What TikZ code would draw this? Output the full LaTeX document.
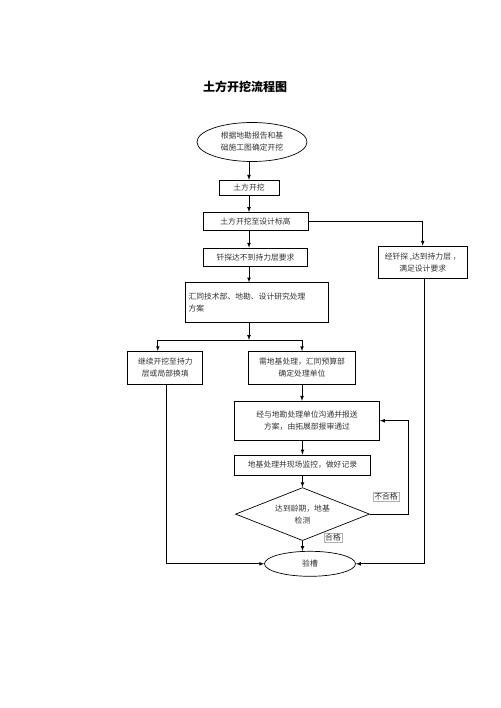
\documentclass[tikz,border=0pt]{standalone}
\usepackage{fontspec}
\setmainfont{Noto Sans CJK SC}
\usetikzlibrary{shapes.geometric, arrows, positioning}

\begin{document}
\begin{tikzpicture}[
    x=1pt, y=-1pt,
    >=latex,
    box/.style={rectangle, draw, line width=0.7pt, inner sep=2pt, align=center,
        font=\fontsize{7.8}{12}\selectfont, text=black!80},
    oval/.style={ellipse, draw, line width=0.7pt, inner sep=0pt, align=center,
        font=\fontsize{7.8}{12}\selectfont, text=black!80},
    check/.style={diamond, draw, line width=0.7pt, inner sep=0pt, aspect=2.5, align=center,
        font=\fontsize{7.8}{12}\selectfont, text=black!80},
    tag/.style={rectangle, draw=black!30, line width=0.4pt, inner sep=1pt,
        font=\fontsize{7.8}{9}\selectfont, text=black!80},
    arrow/.style={->, line width=0.7pt}
]
\useasboundingbox (0,0) rectangle (500,708);

% Nodes
\node[font=\fontsize{12}{14}\selectfont\bfseries] (title) at (245,87) {土方开挖流程图};
\node[oval, minimum width=110pt, minimum height=39pt] (start) at (252,142) {根据地勘报告和基\\础施工图确定开挖};
\node[box, below=18pt of start, xshift=-3pt, minimum width=60pt, minimum height=15pt] (dig) {土方开挖};
\node[box, below=16.5pt of dig, xshift=6.5pt, minimum width=105pt, minimum height=18pt] (level) {土方开挖至设计标高};
\node[box, below=17pt of level, minimum width=104pt, minimum height=18pt] (fail) {钎探达不到持力层要求};
\node[box, right=70pt of fail, yshift=-5pt, minimum width=89pt, minimum height=32pt] (pass) {经钎探 ,达到持力层 ，\\满足设计要求};
\node[box, below=16pt of fail, xshift=1.5pt, minimum width=143pt, minimum height=40pt,
    text width=137pt, align=left] (meet) {汇同技术部、地勘、设计研究处理\\方案};
\node[box, below=28pt of meet, xshift=45pt, minimum width=107pt, minimum height=33pt] (treat) {需地基处理，汇同预算部\\确定处理单位};
\node[box, left=45pt of treat, minimum width=75pt, minimum height=33pt] (refill) {继续开挖至持力\\层或局部换填};
\node[box, below=16pt of treat, xshift=5pt, minimum width=145pt, minimum height=39pt] (plan) {经与地勘处理单位沟通并报送\\方案，由拓展部报审通过};
\node[box, below=14pt of plan, xshift=-4.5pt, minimum width=136pt, minimum height=20pt] (watch) {地基处理并现场监控，做好记录};
\node[check, below=12pt of watch, minimum width=134pt, minimum height=53pt] (test) {达到龄期，地基\\检测};
\node[oval, below=10pt of test, xshift=7.5pt, minimum width=91pt, minimum height=25pt] (accept) {验槽};
\node[tag] (nopass) at (386,497) {不合格};
\node[tag] (ok) at (333,538) {合格};
\coordinate (split) at (249,340);

% Arrows
\draw[arrow] (dig.north |- start.south) -- (dig.north);
\draw[arrow] (dig.south) -- (dig.south |- level.north);
\draw[arrow] (dig.south |- level.south) -- (dig.south |- fail.north);
\draw[arrow] (dig.south |- fail.south) -- (dig.south |- meet.north);
\draw[arrow] (dig.south |- meet.south) -- (split);
\draw[arrow] (split) -| ([xshift=-7.5pt]refill.north);
\draw[arrow] (split) -| (treat.north);
\draw[arrow] (level.east) -| (pass.north);
\draw[arrow] (treat.south) -- (treat.south |- plan.north);
\draw[arrow] (watch.north |- plan.south) -- (watch.north);
\draw[arrow] (watch.south) -- (test.north);
\draw[arrow] (test.south) -- (test.south |- accept.north);
\draw[arrow] (test.east) -- ++(38,0) |- (plan.east);
\draw[arrow] ([xshift=1.5pt]refill.south) |- (accept.west);
\draw[arrow] ([xshift=1.5pt]pass.south) |- (accept.east);

\end{tikzpicture}
\end{document}
